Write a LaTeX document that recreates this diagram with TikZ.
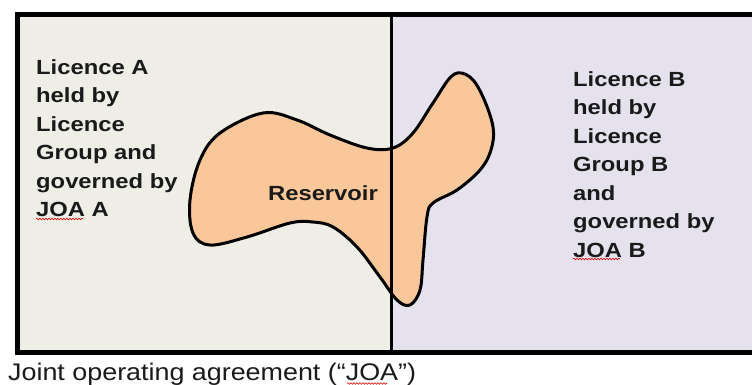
\documentclass[tikz,border=0pt]{standalone}
\usepackage{fontspec}
\setmainfont{Liberation Sans}
\newfontfamily\labfont[FakeStretch=1.16]{Liberation Sans}
\newfontfamily\capfont[FakeStretch=1.12]{Liberation Sans}
\usetikzlibrary{decorations.pathmorphing}
\definecolor{leftfill}{HTML}{EEEDE6}
\definecolor{rightfill}{HTML}{E5E2EE}
\definecolor{resfill}{HTML}{F9C79A}
\definecolor{txt}{HTML}{1A1A1A}
\tikzset{
  lab/.style={inner sep=0pt, anchor=north west, align=left, text=txt,
    font=\labfont\fontsize{20.5}{28.5}\selectfont\bfseries},
  capt/.style={inner sep=0pt, anchor=base west, text=txt,
    font=\capfont\fontsize{24}{28}\selectfont},
  spell/.style={draw=red!85!black, line width=0.6pt,
    decorate, decoration={snake, amplitude=0.8pt, segment length=3pt}},
  border/.style={draw=black, line width=5pt},
  divider/.style={draw=black, line width=3pt},
  res/.style={draw=black, line width=3pt, fill=resfill}
}
\begin{document}
\begin{tikzpicture}[x=1pt,y=-1pt]
\useasboundingbox (0,0) rectangle (752,384);
\clip (0,0) rectangle (752,384);
\fill[white] (0,0) rectangle (752,384);
\fill[leftfill] (17,14) rectangle (391,352);
\fill[rightfill] (391,14) rectangle (770,352);
\draw[res] plot[smooth cycle, tension=0.6] coordinates {
 (263,113) (297,120) (330,135) (367,148) (393,148) (413,133) (433,103)
 (453,75) (470,77) (483,97) (493,127) (491,150) (480,170) (457,190)
 (433,203) (427,217) (423,260) (420,290) (410,305) (397,300) (380,277)
 (357,247) (333,227) (313,222) (290,223) (247,237) (210,245) (193,233)
 (190,200) (200,160) (220,133)};
\coordinate (dtop) at (391,14);
\coordinate (dbot) at (391,352);
\draw[divider] (dtop) -- (dbot);
\draw[border] (17,14) rectangle (775,352);
\node[lab] (la) at (36,59) {Licence A\\held by\\Licence\\Group and\\governed by\\JOA A};
\node[lab] (lb) at (573,71) {Licence B\\held by\\Licence\\Group B\\and\\governed by\\JOA B};
\node[inner sep=0pt, anchor=base, text=txt, font=\labfont\fontsize{20.5}{24}\selectfont\bfseries] (rv) at (323,200) {Reservoir};
\node[capt] (cap) at (8,380) {Joint operating agreement (“JOA”)};
\draw[spell] (36,219) -- (83,219);
\draw[spell] (573,259) -- (620,259);
\draw[spell] (347,383.5) -- (387,383.5);
\end{tikzpicture}
\end{document}
